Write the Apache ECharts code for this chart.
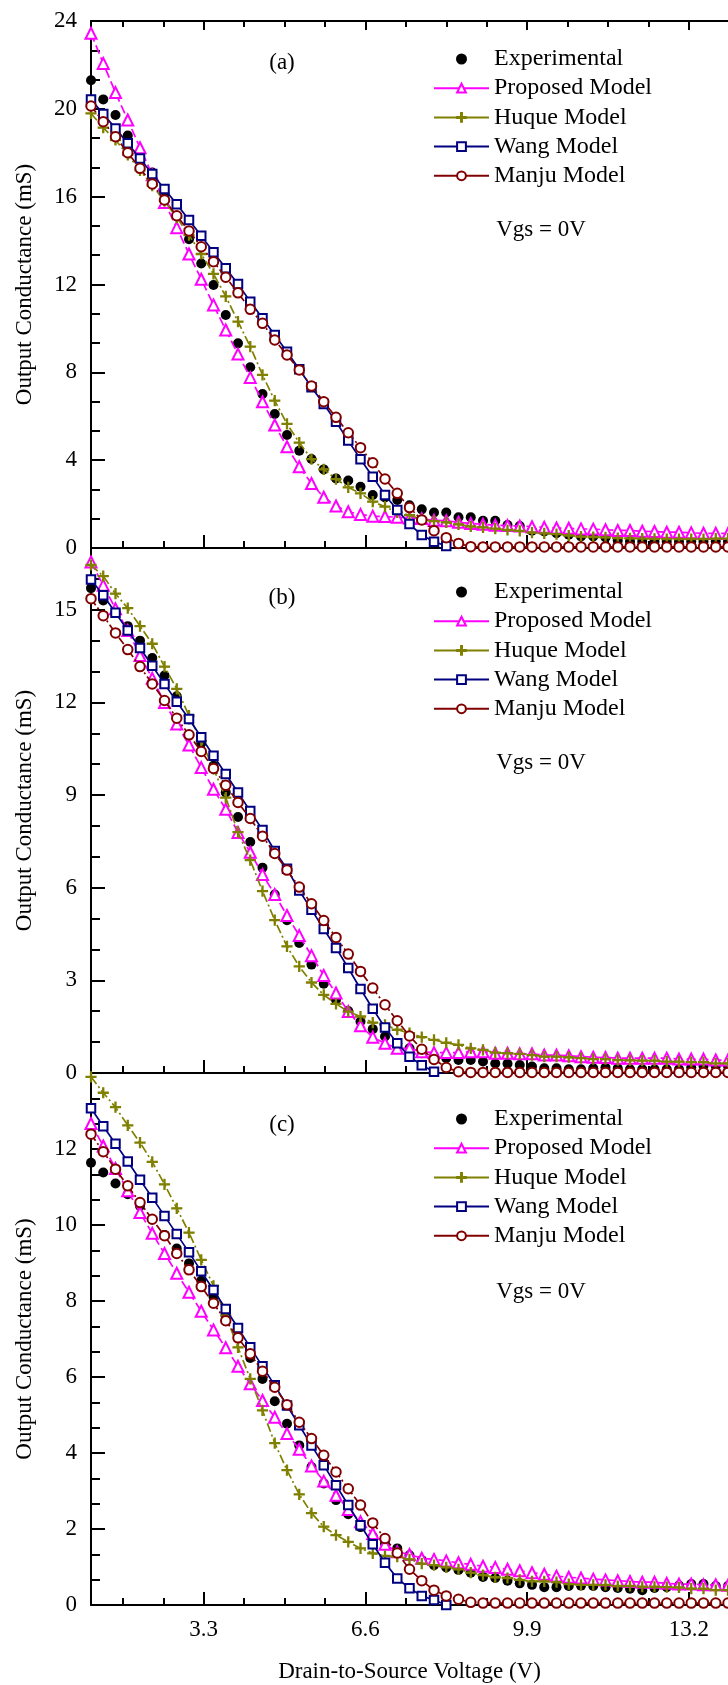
<!DOCTYPE html>
<html><head><meta charset="utf-8">
<script src="https://cdn.jsdelivr.net/npm/echarts@6/dist/echarts.min.js"></script>
<style>html,body{margin:0;padding:0;background:#fff}#c{width:728px;height:1685px}</style>
</head><body><div id="c"></div>
<script>
// ---------------- data ----------------
const vds = [1.00,1.25,1.50,1.75,2.00,2.25,2.50,2.75,3.00,3.25,3.50,3.75,4.00,4.25,4.50,4.75,5.00,5.25,5.50,5.75,6.00,6.25,6.50,6.75,7.00,7.25,7.50,7.75,8.00,8.25,8.50,8.75,9.00,9.25,9.50,9.75,10.00,10.25,10.50,10.75,11.00,11.25,11.50,11.75,12.00,12.25,12.50,12.75,13.00,13.25,13.50,13.75,14.00];

const seriesNames = ['Experimental','Proposed Model','Huque Model','Wang Model','Manju Model'];

// panel (a)
const expA = [21.3,20.43,19.72,18.78,17.98,17.1,16.1,15.1,14.06,12.96,
  11.98,10.61,9.32,8.23,7.01,6.10,5.15,4.43,4.05,3.58,
  3.17,3.07,2.79,2.41,2.30,2.19,1.95,1.76,1.62,1.62,
  1.40,1.40,1.24,1.24,1.05,1.00,0.79,0.75,0.67,0.60,
  0.52,0.52,0.48,0.33,0.30,0.29,0.30,0.28,0.29,0.30,
  0.29,0.31,0.30];
const propA = [23.44,22.07,20.74,19.49,18.23,17.0,15.74,14.59,13.39,12.24,
  11.07,9.93,8.83,7.77,6.66,5.60,4.61,3.70,2.94,2.31,
  1.91,1.65,1.53,1.45,1.43,1.40,1.37,1.34,1.26,1.24,
  1.17,1.12,1.08,1.04,1.02,1.00,0.97,0.94,0.91,0.90,
  0.87,0.86,0.83,0.80,0.80,0.76,0.75,0.72,0.72,0.69,
  0.67,0.67,0.66];
const huqA = [19.79,19.14,18.58,17.9,17.2,16.5,15.8,15.05,14.25,13.39,
  12.48,11.46,10.31,9.17,7.88,6.71,5.65,4.80,4.05,3.58,
  3.14,2.76,2.49,2.11,1.88,1.62,1.50,1.30,1.22,1.17,
  1.08,0.98,0.94,0.88,0.82,0.78,0.70,0.67,0.63,0.57,
  0.52,0.50,0.48,0.45,0.44,0.43,0.42,0.41,0.41,0.41,
  0.41,0.43,0.43];
const wangA = [20.43,19.76,19.11,18.43,17.74,17.03,16.35,15.66,14.94,14.22,
  13.47,12.74,12.02,11.22,10.46,9.70,8.94,8.14,7.32,6.56,
  5.75,4.89,4.04,3.25,2.41,1.73,1.09,0.59,0.29,0.09,
  -0.2];
const manA = [20.13,19.41,18.73,18.0,17.29,16.58,15.85,15.13,14.44,13.72,
  13.04,12.33,11.62,10.87,10.23,9.47,8.79,8.11,7.38,6.66,
  5.95,5.25,4.57,3.88,3.14,2.49,1.84,1.28,0.79,0.47,
  0.21,0.06,0.05,0.05,0.05,0.05,0.05,0.05,0.05,0.05,
  0.05,0.05,0.05,0.05,0.05,0.05,0.05,0.05,0.05,0.05,
  0.05,0.05,0.05];

// panel (b)
const expB = [15.70,15.30,14.90,14.47,14.00,13.44,12.87,12.20,11.45,10.68,
  9.95,9.08,8.29,7.48,6.65,5.78,4.95,4.21,3.51,2.89,
  2.37,2.01,1.67,1.42,1.18,0.96,0.80,0.64,0.55,0.48,
  0.42,0.42,0.37,0.31,0.30,0.26,0.21,0.15,0.15,0.12,
  0.12,0.15,0.18,0.15,0.12,0.12,0.12,0.12,0.12,0.18,
  0.23,0.23,0.23];
const propB = [16.55,15.79,15.03,14.33,13.52,12.78,12.00,11.30,10.62,9.89,
  9.19,8.54,7.79,7.15,6.43,5.78,5.10,4.45,3.80,3.16,
  2.59,1.99,1.53,1.16,0.96,0.80,0.80,0.69,0.66,0.66,
  0.66,0.69,0.69,0.64,0.64,0.62,0.62,0.58,0.58,0.56,
  0.53,0.51,0.50,0.48,0.48,0.48,0.48,0.48,0.45,0.45,
  0.45,0.42,0.42];
const huqB = [16.45,16.09,15.52,15.05,14.47,13.90,13.16,12.44,11.57,10.75,
  9.85,8.92,7.80,6.89,5.89,4.95,4.10,3.45,2.93,2.53,
  2.24,1.99,1.83,1.63,1.56,1.40,1.29,1.16,1.07,0.98,
  0.91,0.80,0.75,0.66,0.64,0.62,0.58,0.53,0.53,0.51,
  0.48,0.45,0.45,0.42,0.41,0.40,0.40,0.37,0.37,0.35,
  0.35,0.31,0.31];
const wangB = [15.98,15.47,14.90,14.33,13.76,13.19,12.60,12.02,11.46,10.87,
  10.27,9.68,9.08,8.48,7.87,7.19,6.61,5.91,5.29,4.66,
  4.05,3.40,2.72,2.08,1.47,0.96,0.53,0.25,0.04,-0.06,
  -0.35];
const manB = [15.36,14.81,14.25,13.71,13.16,12.60,12.06,11.49,10.95,10.41,
  9.86,9.32,8.76,8.24,7.67,7.11,6.57,6.02,5.48,4.94,
  4.39,3.85,3.29,2.75,2.21,1.69,1.20,0.77,0.44,0.18,
  0.04,0.02,0.02,0.02,0.02,0.02,0.02,0.02,0.02,0.02,
  0.02,0.02,0.02,0.02,0.02,0.02,0.02,0.02,0.02,0.02,
  0.02,0.02,0.02];

// panel (c)
const expC = [11.64,11.38,11.09,10.81,10.50,10.15,9.74,9.38,8.99,8.53,
  8.11,7.60,7.05,6.50,5.95,5.36,4.77,4.20,3.63,3.20,
  2.76,2.39,2.05,1.80,1.62,1.49,1.31,1.18,1.05,0.99,
  0.92,0.85,0.74,0.71,0.64,0.57,0.53,0.47,0.47,0.50,
  0.51,0.50,0.47,0.45,0.43,0.39,0.45,0.47,0.51,0.55,
  0.55,0.50,0.50];
const propC = [12.67,12.08,11.49,10.90,10.33,9.78,9.25,8.73,8.23,7.73,
  7.24,6.77,6.28,5.82,5.38,4.94,4.51,4.10,3.66,3.26,
  2.89,2.51,2.19,1.88,1.60,1.40,1.33,1.23,1.20,1.16,
  1.11,1.07,1.02,0.99,0.94,0.90,0.85,0.81,0.76,0.73,
  0.71,0.68,0.66,0.64,0.62,0.60,0.60,0.57,0.55,0.55,
  0.53,0.53,0.52];
const huqC = [13.90,13.48,13.10,12.62,12.17,11.66,11.07,10.44,9.80,9.08,
  8.40,7.62,6.78,5.95,5.12,4.26,3.55,2.91,2.42,2.06,
  1.84,1.66,1.49,1.36,1.29,1.27,1.20,1.09,1.05,0.99,
  0.94,0.85,0.79,0.73,0.71,0.66,0.62,0.62,0.60,0.55,
  0.53,0.53,0.53,0.50,0.50,0.48,0.48,0.47,0.46,0.43,
  0.43,0.39,0.39];
const wangC = [13.07,12.60,12.14,11.67,11.19,10.72,10.24,9.76,9.28,8.78,
  8.29,7.79,7.29,6.78,6.28,5.78,5.25,4.73,4.20,3.68,
  3.15,2.63,2.10,1.60,1.11,0.70,0.44,0.24,0.13,0.0,
  -0.35];
const manC = [12.39,11.93,11.47,11.03,10.59,10.15,9.72,9.25,8.82,8.38,
  7.94,7.48,7.03,6.61,6.15,5.73,5.27,4.81,4.38,3.94,
  3.50,3.06,2.63,2.16,1.75,1.37,0.94,0.64,0.39,0.24,
  0.15,0.07,0.05,0.05,0.05,0.05,0.05,0.05,0.05,0.05,
  0.05,0.05,0.05,0.05,0.05,0.05,0.05,0.05,0.05,0.05,
  0.05,0.05,0.05];

// tick labels
const xTickLabels = [3.3, 6.6, 9.9, 13.2];
const xMinorTicks = [1.65, 2.475, 4.125, 4.95, 5.775, 7.425, 8.25, 9.075, 10.725, 11.55, 12.375];
const yTicksA = [0, 4, 8, 12, 16, 20, 24];
const yTicksB = [0, 3, 6, 9, 12, 15];
const yTicksC = [0, 2, 4, 6, 8, 10, 12];
const panelLabels = ['(a)', '(b)', '(c)'];
const noteText = 'Vgs = 0V';

// ---------------- layout / style ----------------
const FONT = '"Liberation Serif","Times New Roman",Times,serif';
const grids = [
  {left: 91, top: 21, width: 638, height: 527},
  {left: 91, top: 548, width: 638, height: 525},
  {left: 91, top: 1073, width: 638, height: 532}
];
const yMax = [24, 17, 14];
const yMajor = [yTicksA, yTicksB, yTicksC];
const yMinorStep = [4/3, 1, 2/3];
function minorVals(step, max) {
  const out = [];
  for (let k = 1; k * step < max + 1e-9; k++) if (k % 3 !== 0) out.push(+(k * step).toFixed(4));
  return out;
}
const panels = [
  [expA, propA, huqA, wangA, manA],
  [expB, propB, huqB, wangB, manB],
  [expC, propC, huqC, wangC, manC]
];
const styles = [
  null,
  {color: '#FF00FF', symbol: 'emptyTriangle', size: 11, dash: [9, 4]},
  {color: '#808000', symbol: 'path://M4.45,0h1.1v4.45h4.45v1.1h-4.45v4.45h-1.1v-4.45h-4.45v-1.1h4.45z', size: 10, dash: [9, 3, 2, 3]},
  {color: '#000080', symbol: 'emptyRect', size: 8.5, dash: 'solid'},
  {color: '#800000', symbol: 'emptyCircle', size: 9.5, dash: [8, 3, 2, 3]}
];
const legendTops = [47, 580, 1107];
const labelY = [63, 598, 1125];
const noteY = [230, 763, 1292];

const black = '#000';
const xAxes = [], yAxes = [], series = [], legends = [], graphics = [];

for (let p = 0; p < 3; p++) {
  xAxes.push({
    type: 'value', gridIndex: p, min: 1, max: 14, position: 'bottom',
    axisLine: {show: true, onZero: false, lineStyle: {color: black, width: 2}},
    axisTick: {show: true, inside: true, length: 13, customValues: xTickLabels, lineStyle: {color: black, width: 2}},
    axisLabel: p === 2 ? {show: true, customValues: xTickLabels, margin: 13, fontFamily: FONT, fontSize: 23, color: black,
                          formatter: v => v.toFixed(1)} : {show: false},
    splitLine: {show: false},
    name: p === 2 ? 'Drain-to-Source Voltage (V)' : '',
    nameLocation: 'middle', nameGap: 55,
    nameTextStyle: {fontFamily: FONT, fontSize: 23, color: black}
  });
}
for (let p = 0; p < 3; p++) {
  xAxes.push({
    type: 'value', gridIndex: p, min: 1, max: 14, position: 'bottom',
    axisLine: {show: false, onZero: false},
    axisTick: {show: true, inside: true, length: 7, customValues: xMinorTicks, lineStyle: {color: black, width: 2}},
    axisLabel: {show: false}, splitLine: {show: false}
  });
}
// top axis of panel (a)
xAxes.push({
  type: 'value', gridIndex: 0, min: 1, max: 14, position: 'top',
  axisLine: {show: true, onZero: false, lineStyle: {color: black, width: 2}},
  axisTick: {show: true, inside: true, length: 9, customValues: xTickLabels, lineStyle: {color: black, width: 2}},
  axisLabel: {show: false}, splitLine: {show: false}
});
xAxes.push({
  type: 'value', gridIndex: 0, min: 1, max: 14, position: 'top',
  axisLine: {show: false, onZero: false},
  axisTick: {show: true, inside: true, length: 6, customValues: xMinorTicks, lineStyle: {color: black, width: 2}},
  axisLabel: {show: false}, splitLine: {show: false}
});

for (let p = 0; p < 3; p++) {
  yAxes.push({
    type: 'value', gridIndex: p, min: 0, max: yMax[p], position: 'left',
    axisLine: {show: true, onZero: false, lineStyle: {color: black, width: 2}},
    axisTick: {show: true, inside: true, length: 14, customValues: yMajor[p], lineStyle: {color: black, width: 2}},
    axisLabel: {show: true, customValues: yMajor[p], margin: 14, fontFamily: FONT, fontSize: 23, color: black},
    splitLine: {show: false},
    name: 'Output Conductance (mS)', nameLocation: 'middle', nameGap: 55,
    nameTextStyle: {fontFamily: FONT, fontSize: 23, color: black}
  });
}
for (let p = 0; p < 3; p++) {
  yAxes.push({
    type: 'value', gridIndex: p, min: 0, max: yMax[p], position: 'left',
    axisLine: {show: false, onZero: false},
    axisTick: {show: true, inside: true, length: 9, customValues: minorVals(yMinorStep[p], yMax[p]), lineStyle: {color: black, width: 2}},
    axisLabel: {show: false}, splitLine: {show: false}
  });
}

for (let p = 0; p < 3; p++) {
  const arrs = panels[p];
  series.push({
    type: 'scatter', name: seriesNames[0], xAxisIndex: p, yAxisIndex: p,
    data: arrs[0].map((y, i) => [vds[i], y]),
    symbol: 'circle', symbolSize: 10, itemStyle: {color: black, opacity: 1},
    emphasis: {disabled: true}, clip: true, z: 2
  });
  for (let s = 1; s < 5; s++) {
    const st = styles[s];
    series.push({
      type: 'line', name: seriesNames[s], xAxisIndex: p, yAxisIndex: p,
      data: arrs[s].map((y, i) => [vds[i], y]),
      symbol: st.symbol, symbolSize: st.size, showSymbol: true, showAllSymbol: true,
      clip: true, smooth: false,
      lineStyle: {color: st.color, width: 1.7, type: st.dash},
      itemStyle: {color: st.color, borderColor: st.color, borderWidth: 1.2},
      emphasis: {disabled: true}, z: 2 + s
    });
  }
  legends.push({
    orient: 'vertical', left: 433, top: legendTops[p], padding: 0,
    itemWidth: 55, itemHeight: 11, itemGap: 5.2, selectedMode: false,
    data: seriesNames,
    textStyle: {fontFamily: FONT, fontSize: 24, color: black, lineHeight: 24},
    lineStyle: {type: 'solid', width: 2}
  });
  graphics.push({
    type: 'text', x: 282, y: labelY[p],
    style: {text: panelLabels[p], font: '23px ' + FONT, fill: black, textAlign: 'center', textVerticalAlign: 'middle'}
  });
  graphics.push({
    type: 'text', x: 541, y: noteY[p],
    style: {text: noteText, font: '23px ' + FONT, fill: black, textAlign: 'center', textVerticalAlign: 'middle'}
  });
}

const chart = echarts.init(document.getElementById('c'), null, {renderer: 'canvas'});
chart.setOption({
  animation: false,
  backgroundColor: '#fff',
  grid: grids,
  xAxis: xAxes,
  yAxis: yAxes,
  legend: legends,
  series: series,
  graphic: graphics
});
</script></body></html>
